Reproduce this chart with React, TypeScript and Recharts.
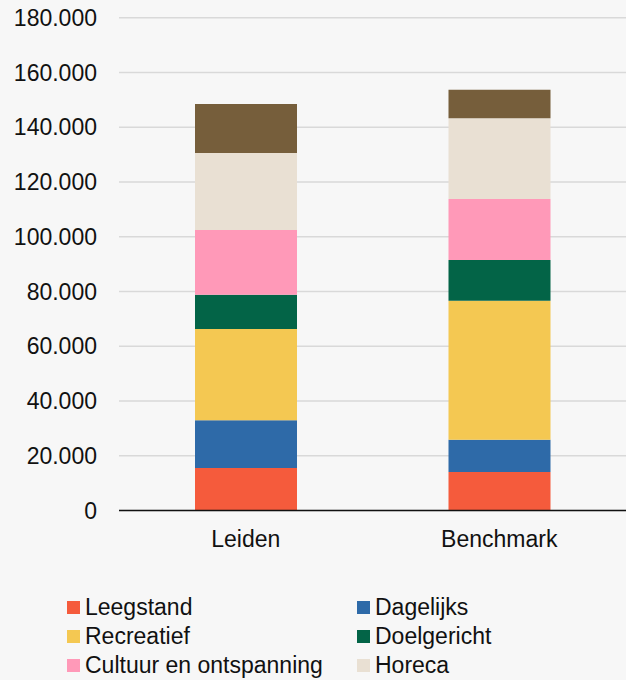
import React from "react";
import { BarChart, Bar, XAxis, YAxis, CartesianGrid } from "recharts";

const categories = ["Leiden", "Benchmark"];

const seriesNames = [
  "Leegstand",
  "Dagelijks",
  "Recreatief",
  "Doelgericht",
  "Cultuur en ontspanning",
  "Horeca",
  "Overig",
];

const seriesColors = [
  "#f55b3c",
  "#2e6aa8",
  "#f4c852",
  "#036447",
  "#ff99b8",
  "#e9e0d3",
  "#765e3b",
];

const leegstand = [15500, 14100];
const dagelijks = [17500, 11700];
const recreatief = [33300, 50800];
const doelgericht = [12500, 14900];
const cultuur = [23700, 22300];
const horeca = [28100, 29500];
const overig = [17900, 10400];

const yTicks = [0, 20000, 40000, 60000, 80000, 100000, 120000, 140000, 160000, 180000];

// only the first six legend entries fit in the visible area
const legendCount = 6;

const seriesValues = [leegstand, dagelijks, recreatief, doelgericht, cultuur, horeca, overig];

const data = categories.map((name, i) => {
  const row: Record<string, string | number> = { name };
  seriesNames.forEach((s, j) => {
    row[s] = seriesValues[j][i];
  });
  return row;
});

const fmt = (v: number) => v.toLocaleString("de-DE");

const font = "'Liberation Sans', Arial, sans-serif";

export default function App() {
  return (
    <div
      style={{
        position: "absolute",
        left: 0,
        top: 0,
        width: 626,
        height: 680,
        overflow: "hidden",
        background: "#f7f7f7",
        fontFamily: font,
      }}
    >
      <BarChart
        width={626}
        height={560}
        data={data}
        margin={{ top: 17.7, right: 0, left: 0, bottom: 19.5 }}
        barSize={102}
      >
        <CartesianGrid vertical={false} stroke="#d9d9d9" strokeWidth={1.5} />
        <YAxis
          width={119}
          domain={[0, 180000]}
          ticks={yTicks}
          tickFormatter={fmt}
          axisLine={false}
          tickLine={false}
          tickMargin={16}
          tick={{ fill: "#111", fontSize: 23, fontFamily: font }}
        />
        <XAxis
          dataKey="name"
          axisLine={{ stroke: "#111", strokeWidth: 1.5 }}
          tickLine={false}
          tickMargin={14}
          tick={{ fill: "#111", fontSize: 23, fontFamily: font }}
        />
        {seriesNames.map((s, j) => (
          <Bar
            key={s}
            dataKey={s}
            stackId="a"
            fill={seriesColors[j]}
            isAnimationActive={false}
          />
        ))}
      </BarChart>
      <div
        style={{
          position: "absolute",
          left: 67,
          top: 593,
          display: "grid",
          gridTemplateColumns: "290px 240px",
        }}
      >
        {seriesNames.slice(0, legendCount).map((s, j) => (
          <div
            key={s}
            style={{
              display: "flex",
              alignItems: "center",
              height: 29,
              fontSize: 23,
              color: "#111",
              whiteSpace: "nowrap",
            }}
          >
            <span
              style={{
                width: 13,
                height: 13,
                background: seriesColors[j],
                marginRight: 5,
                display: "inline-block",
                flexShrink: 0,
              }}
            />
            {s}
          </div>
        ))}
      </div>
    </div>
  );
}
